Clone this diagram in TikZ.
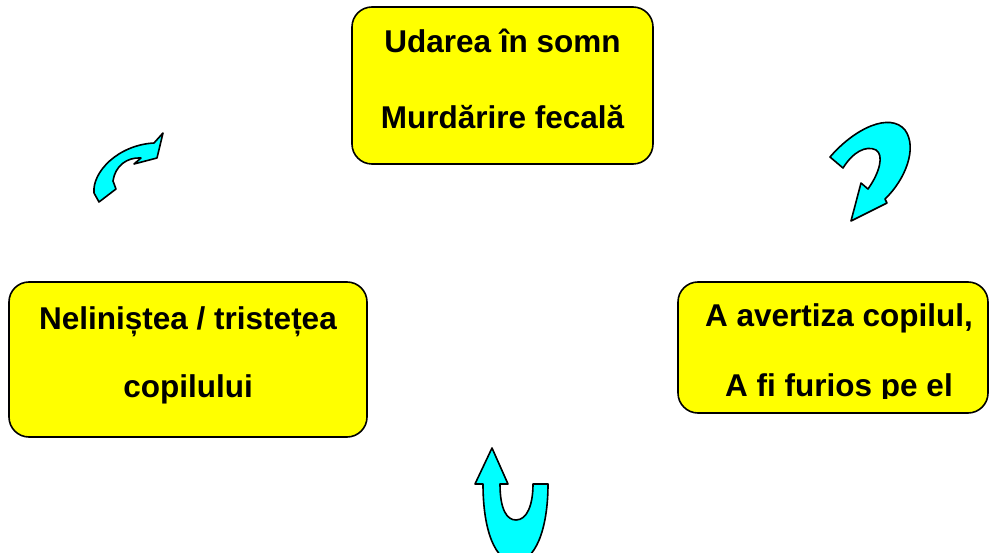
\documentclass[tikz,border=0pt]{standalone}
\usepackage{fontspec}
\setmainfont{Liberation Sans}
\definecolor{boxyellow}{HTML}{FFFF00}
\definecolor{arrowcyan}{HTML}{00FFFF}

\begin{document}
\begin{tikzpicture}[
        x=1pt, y=-1pt,
        box/.style={rectangle, rounded corners=20pt, draw=black, line width=1.6pt, fill=boxyellow},
        txt/.style={anchor=base, inner sep=0pt, font=\fontsize{31.5}{38}\selectfont\bfseries},
        uturn/.style={draw=black, line width=1.6pt, fill=arrowcyan, line join=round}
    ]
    \clip (0,0) rectangle (989,553);

    % top box
    \node[box, minimum width=301pt, minimum height=157pt] (wet) at (502.5,85.5) {};
    \node[txt] (wet1) at (502.5,53) {Udarea în somn};
    \node[txt] (wet2) at (502.5,129) {Murdărire fecală};

    % right box
    \node[box, minimum width=310pt, minimum height=131pt] (warn) at (833,347.5) {};
    \node[txt] (warn1) at (839,327) {A avertiza copilul,};
    \begin{scope}
        \clip (678,282) rectangle (989,399);
        \node[txt] (warn2) at (839,397) {A fi furios pe el};
    \end{scope}

    % left box
    \node[box, minimum width=358pt, minimum height=155pt] (sad) at (188,359.5) {};
    \node[txt] (sad1) at (188,330) {Neliniștea / tristețea};
    \node[txt] (sad2) at (188,398) {copilului};

    % curved arrows
    \path[uturn] (830,157) .. controls (855,128) and (890,112) .. (905,130)
        .. controls (918,148) and (905,180) .. (885,199) -- (887,203) -- (851,221)
        -- (861,183) -- (868,189) .. controls (880,172) and (884,155) .. (876,150)
        .. controls (866,145) and (853,152) .. (843,168) -- cycle;
    \path[uturn] (492,448) -- (508,484) -- (500,484) .. controls (500,510) and (507,520) .. (516,520)
        .. controls (527,520) and (533,505) .. (533,484) -- (548,484)
        .. controls (548,530) and (535,562) .. (515,562) .. controls (495,562) and (483,530) .. (483,484)
        -- (475,484) -- cycle;
    \path[uturn] (99,202) -- (94,193) .. controls (92,172) and (118,145) .. (154,143)
        -- (163,133) -- (157,158) -- (134,164) -- (141,158)
        .. controls (127,157) and (115,166) .. (113,181) -- (116,189) -- cycle;

\end{tikzpicture}
\end{document}
